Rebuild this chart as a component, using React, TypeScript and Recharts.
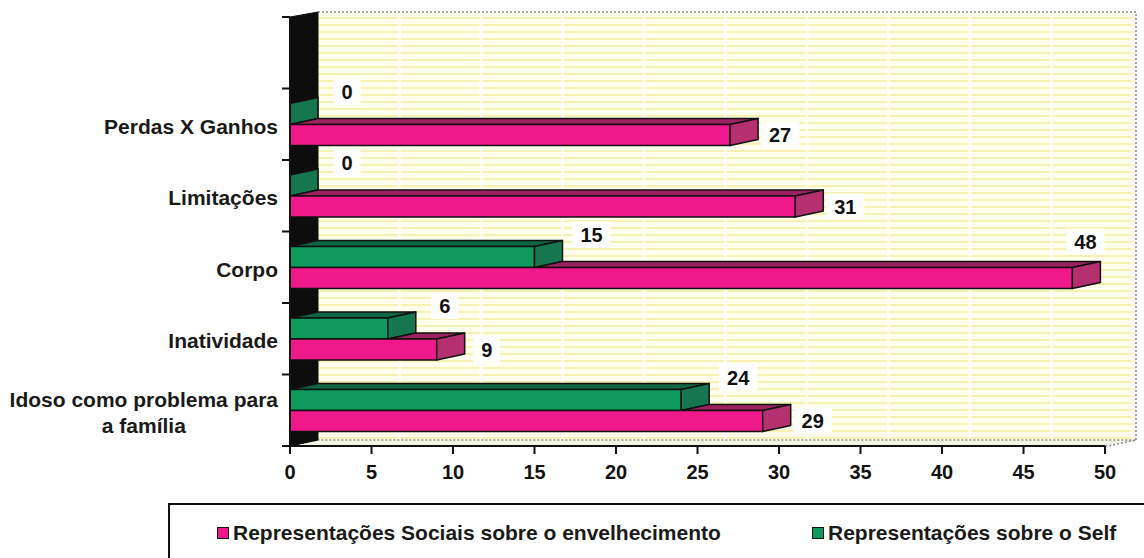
import React from "react"
import { BarChart, Bar, XAxis, YAxis, LabelList } from "recharts"

const CATEGORIES = [
  "",
  "Perdas X Ganhos",
  "Limitações",
  "Corpo",
  "Inatividade",
  "Idoso como problema para a família",
]
const SOCIAL_VALUES = [null, 27, 31, 48, 9, 29]
const SELF_VALUES = [null, 0, 0, 15, 6, 24]
const X_TICKS = [0, 5, 10, 15, 20, 25, 30, 35, 40, 45, 50]

const SERIES = [
  { key: "social", name: "Representações Sociais sobre o envelhecimento", color: "#f0198c" },
  { key: "self", name: "Representações sobre o Self", color: "#0e9a5c" },
]

const W = 1144
const H = 558
const LEFT = 290
const TOP = 17
const RIGHT = 1105
const BOTTOM = 446
const BAND = (BOTTOM - TOP) / CATEGORIES.length
const PX = (RIGHT - LEFT) / 50
const DX = 28
const DY = 6
const FONT = "'Liberation Sans', Arial, Helvetica, sans-serif"
const CAT_SIZE = 21

const SHADES: Record<string, { side: string; top: string }> = {
  social: { side: "#b5306f", top: "#9e2262" },
  self: { side: "#157650", top: "#0f6644" },
}

const data = CATEGORIES.map((name, i) => ({
  name,
  social: SOCIAL_VALUES[i],
  self: SELF_VALUES[i],
}))

let ctx: CanvasRenderingContext2D | null = null
function textWidth(s: string, size = CAT_SIZE) {
  if (!ctx) ctx = document.createElement("canvas").getContext("2d")
  if (!ctx) return s.length * size * 0.55
  ctx.font = `bold ${size}px ${FONT}`
  return ctx.measureText(s).width
}

function wrap(label: string, max: number) {
  const words = label.split(" ")
  const lines: string[] = []
  let cur = ""
  for (const w of words) {
    const next = cur ? cur + " " + w : w
    if (cur && textWidth(next) > max) {
      lines.push(cur)
      cur = w
    } else cur = next
  }
  if (cur) lines.push(cur)
  return lines
}

const make3D = (series: "social" | "self") => (props: any) => {
  const { x, y, width, height, payload, fill } = props
  if (payload[series] == null) return null
  const x1 = x + width
  let topStart = x
  if (series === "social" && payload.social > 0 && payload.self != null) {
    topStart = Math.max(x, x + (payload.self * width) / payload.social)
  }
  const sh = SHADES[series]
  return (
    <g stroke="#111" strokeWidth={1.5} strokeLinejoin="round">
      {x1 > topStart - 0.01 && (
        <polygon
          points={`${topStart},${y} ${topStart + DX},${y - DY} ${x1 + DX},${y - DY} ${x1},${y}`}
          fill={sh.top}
        />
      )}
      <rect x={x} y={y} width={Math.max(width, 0)} height={height} fill={fill} />
      <polygon
        points={`${x1},${y} ${x1 + DX},${y - DY} ${x1 + DX},${y + height - DY} ${x1},${y + height}`}
        fill={sh.side}
      />
    </g>
  )
}

function ValueTag({ cx, cy, value }: { cx: number; cy: number; value: number }) {
  const w = textWidth(String(value), 20) + 16
  return (
    <g>
      <rect x={cx - w / 2} y={cy - 13} width={w} height={26} fill="#ffffff" />
      <text
        x={cx}
        y={cy}
        textAnchor="middle"
        dominantBaseline="central"
        fontFamily={FONT}
        fontWeight="bold"
        fontSize={20}
        fill="#111"
      >
        {value}
      </text>
    </g>
  )
}

const selfLabel = (props: any) => {
  const { x, y, width, value } = props
  if (value == null) return null
  return <ValueTag cx={Number(x) + Number(width) + 57} cy={Number(y) - 12} value={value} />
}

const socialLabel = (props: any) => {
  const { x, y, width, height, value } = props
  if (value == null) return null
  const end = Number(x) + Number(width)
  if (end + 50 > RIGHT) return <ValueTag cx={end + 13} cy={Number(y) - 26} value={value} />
  return <ValueTag cx={end + 50} cy={Number(y) + Number(height) / 2} value={value} />
}

const CategoryTick = (props: any) => {
  const { x, y, payload, index } = props
  const lines = payload.value ? wrap(payload.value, 272) : []
  const maxW = Math.max(0, ...lines.map((l) => textWidth(l)))
  const lh = 26
  const right = x - 4
  return (
    <g>
      <line x1={LEFT - 8} x2={LEFT} y1={y - BAND / 2} y2={y - BAND / 2} stroke="#111" strokeWidth={2} />
      {index === CATEGORIES.length - 1 && (
        <line x1={LEFT - 8} x2={LEFT} y1={y + BAND / 2} y2={y + BAND / 2} stroke="#111" strokeWidth={2} />
      )}
      {lines.map((ln, i) => (
        <text
          key={i}
          x={lines.length > 1 ? right - maxW / 2 : right}
          y={y + 2 + (i - (lines.length - 1) / 2) * lh}
          textAnchor={lines.length > 1 ? "middle" : "end"}
          dominantBaseline="central"
          fontFamily={FONT}
          fontWeight="bold"
          fontSize={CAT_SIZE}
          fill="#1a1a1a"
        >
          {ln}
        </text>
      ))}
    </g>
  )
}

function Backdrop() {
  const backL = LEFT + DX
  const backT = TOP - 5
  const backB = BOTTOM - DY
  const backR = 1136
  return (
    <svg width={W} height={H} style={{ position: "absolute", left: 0, top: 0 }}>
      <defs>
        <pattern id="stripes" width={8} height={7} patternUnits="userSpaceOnUse">
          <rect width={8} height={7} fill="#ffffee" />
          <rect y={3} width={8} height={2} fill="#f7f2b4" />
        </pattern>
      </defs>
      <rect x={backL} y={backT} width={backR - backL} height={backB - backT} fill="url(#stripes)" />
      {X_TICKS.slice(1).map((t) => (
        <line
          key={t}
          x1={LEFT + t * PX + DX}
          x2={LEFT + t * PX + DX}
          y1={backT}
          y2={backB}
          stroke="#ffffff"
          strokeOpacity={0.7}
          strokeWidth={3}
        />
      ))}
      <polyline
        points={`${backL},${backT} ${backR},${backT} ${backR},${backB}`}
        fill="none"
        stroke="#8a8a8a"
        strokeWidth={1.5}
        strokeDasharray="2 2"
      />
      <polygon
        points={`${LEFT},${BOTTOM} ${backL},${backB} ${backR},${backB} ${backR - DX},${BOTTOM}`}
        fill="#f3f3e6"
        stroke="#8a8a8a"
        strokeWidth={1.5}
        strokeDasharray="2 2"
      />
      <polygon
        points={`${LEFT},${TOP} ${backL},${backT} ${backL},${backB} ${LEFT},${BOTTOM}`}
        fill="#0d0d0d"
        stroke="#0d0d0d"
      />
    </svg>
  )
}

function Legend() {
  return (
    <div
      style={{
        position: "absolute",
        left: 168,
        top: 503,
        width: 1000,
        height: 80,
        border: "2px solid #111",
        boxSizing: "border-box",
        fontFamily: FONT,
        fontWeight: "bold",
        fontSize: 21,
        color: "#1a1a1a",
      }}
    >
      {SERIES.map((s, i) => (
        <div
          key={s.key}
          style={{
            position: "absolute",
            left: i === 0 ? 47 : 642,
            top: 16,
            display: "flex",
            alignItems: "center",
            whiteSpace: "nowrap",
          }}
        >
          <span
            style={{
              display: "inline-block",
              width: 10,
              height: 10,
              background: s.color,
              border: "1.5px solid #111",
              marginRight: 4,
            }}
          />
          {s.name}
        </div>
      ))}
    </div>
  )
}

export default function App() {
  return (
    <div style={{ position: "absolute", left: 0, top: 0, width: W, height: H, background: "#fff" }}>
      <Backdrop />
      <div style={{ position: "absolute", left: 0, top: 0 }}>
        <BarChart
          width={W}
          height={H}
          data={data}
          layout="vertical"
          margin={{ top: TOP, right: W - RIGHT, bottom: H - BOTTOM - 40, left: 0 }}
          barGap={0}
          barSize={21}
        >
          <XAxis
            type="number"
            domain={[0, 50]}
            ticks={X_TICKS}
            interval={0}
            height={40}
            axisLine={{ stroke: "#111", strokeWidth: 2 }}
            tickLine={{ stroke: "#111", strokeWidth: 2 }}
            tickSize={8}
            tickMargin={11}
            tick={{ fill: "#111", fontFamily: FONT, fontWeight: "bold", fontSize: 20 }}
          />
          <YAxis
            type="category"
            dataKey="name"
            width={LEFT}
            interval={0}
            axisLine={{ stroke: "#111", strokeWidth: 2 }}
            tickLine={false}
            tick={<CategoryTick />}
          />
          <Bar dataKey="self" name={SERIES[1].name} fill={SERIES[1].color} shape={make3D("self")} isAnimationActive={false}>
            <LabelList dataKey="self" content={selfLabel} />
          </Bar>
          <Bar dataKey="social" name={SERIES[0].name} fill={SERIES[0].color} shape={make3D("social")} isAnimationActive={false}>
            <LabelList dataKey="social" content={socialLabel} />
          </Bar>
        </BarChart>
      </div>
      <Legend />
    </div>
  )
}
